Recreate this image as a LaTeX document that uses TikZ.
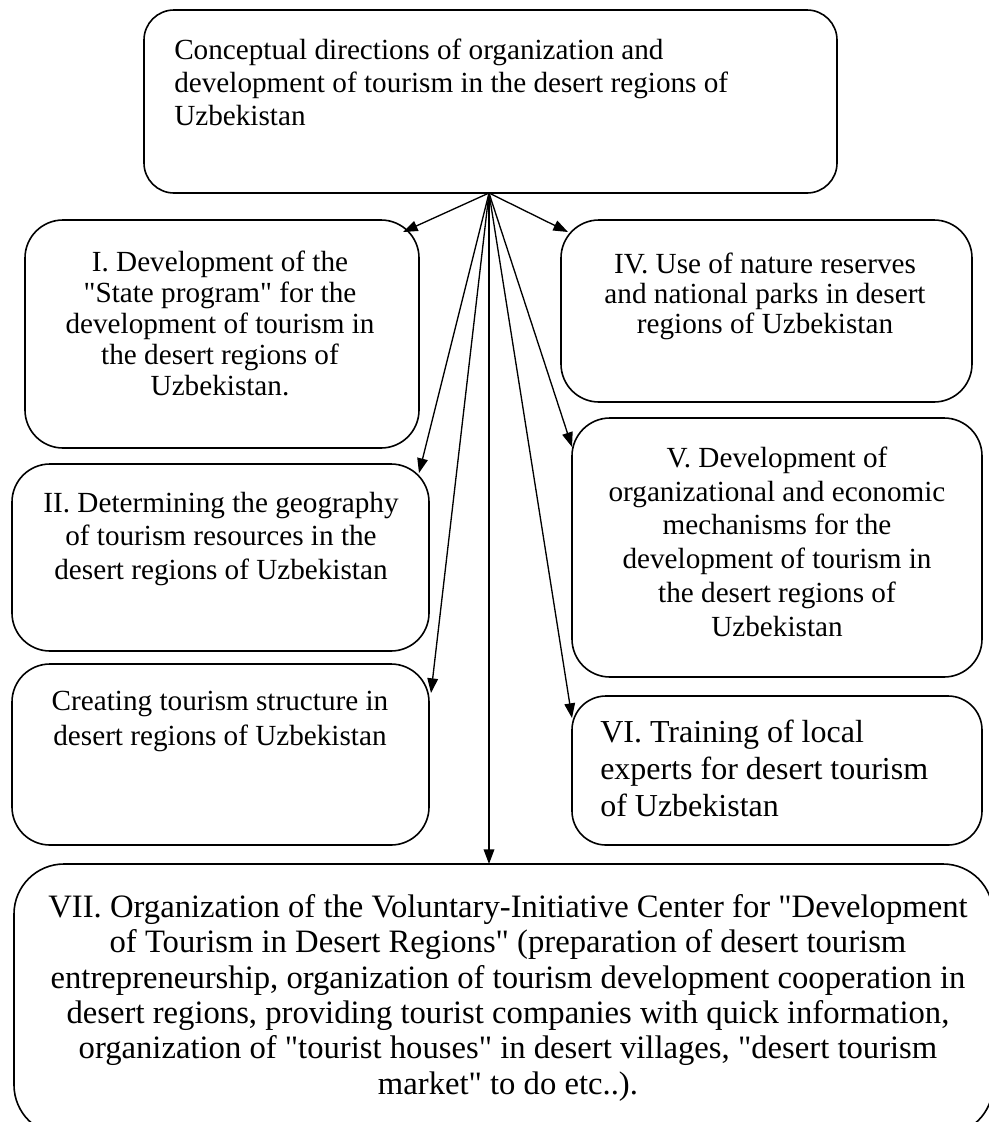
\documentclass[tikz,border=0pt]{standalone}
\usepackage{fontspec}
\setmainfont{Liberation Serif}[Ligatures=TeXOff]
\usetikzlibrary{arrows.meta,fit}
\begin{document}
\begin{tikzpicture}[x=0.75pt,y=-0.75pt,
  box/.style={draw=black,line width=1.2pt,rounded corners=28.5pt,inner sep=0pt,fill=none},
  txt/.style={inner sep=0pt,align=center,anchor=base},
  txtl/.style={inner sep=0pt,align=left,anchor=base west},
  conn/.style={line width=1pt,-{Triangle[length=11pt,width=8pt]}}]
\useasboundingbox (0,0) rectangle (989,1122);
\clip (0,0) rectangle (989,1122);
\fill[white] (0,0) rectangle (989,1122);
% boxes
\node[box,rounded corners=22.5pt,fit={(144,10) (837,193)}] (top) {};
\node[box,fit={(25,220) (419,448)}] (b1) {};
\node[box,fit={(561,220) (972,402)}] (b4) {};
\node[box,fit={(12,464) (429,651)}] (b2) {};
\node[box,fit={(12,664) (429,845)}] (b3) {};
\node[box,fit={(572,418) (982,677)}] (b5) {};
\node[box,rounded corners=25.5pt,fit={(572,696) (982,845)}] (b6) {};
\node[box,rounded corners=37.5pt,fit={(14,864) (993,1135)}] (b7) {};
% texts (anchor = baseline of last line)
\node[txtl,font=\fontsize{21.9}{24.75}\selectfont] (ttop) at (174,125)
  {Conceptual directions of organization and\\development of tourism in the desert regions of\\Uzbekistan};
\node[txt,font=\fontsize{21.9}{23.25}\selectfont] (t1) at (220,395)
  {I. Development of the\\"State program" for the\\development of tourism in\\the desert regions of\\Uzbekistan.};
\node[txt,font=\fontsize{21.9}{22.3}\selectfont] (t4) at (765,333)
  {IV. Use of nature reserves\\and national parks in desert\\regions of Uzbekistan};
\node[txt,font=\fontsize{21.9}{25}\selectfont] (t2) at (221,579)
  {II. Determining the geography\\of tourism resources in the\\desert regions of Uzbekistan};
\node[txt,font=\fontsize{21.9}{26.25}\selectfont] (t3) at (220,745)
  {Creating tourism structure in\\desert regions of Uzbekistan};
\node[txt,font=\fontsize{21.9}{25.3}\selectfont] (t5) at (777,636)
  {V. Development of\\organizational and economic\\mechanisms for the\\development of tourism in\\the desert regions of\\Uzbekistan};
\node[txtl,font=\fontsize{24}{27.5}\selectfont] (t6) at (600,816)
  {VI. Training of local\\experts for desert tourism\\of Uzbekistan};
\node[txt,font=\fontsize{24.5}{26.5}\selectfont] (t7) at (508,1094)
  {VII. Organization of the Voluntary-Initiative Center for "Development\\of Tourism in Desert Regions" (preparation of desert tourism\\entrepreneurship, organization of tourism development cooperation in\\desert regions, providing tourist companies with quick information,\\organization of "tourist houses" in desert villages, "desert tourism\\market" to do etc..).};
% connector ends
\coordinate (src) at (489,193);
\coordinate (p1) at (403,232);
\coordinate (p4) at (568,232);
\coordinate (p2) at (419,473);
\coordinate (p5) at (572,447);
\coordinate (p3) at (431,693);
\coordinate (p6) at (572,718);
\coordinate (p7) at (489,864);
\foreach \t in {p1,p4,p2,p5,p3,p6,p7}{\draw[conn] (src) -- (\t);}
\end{tikzpicture}
\end{document}
